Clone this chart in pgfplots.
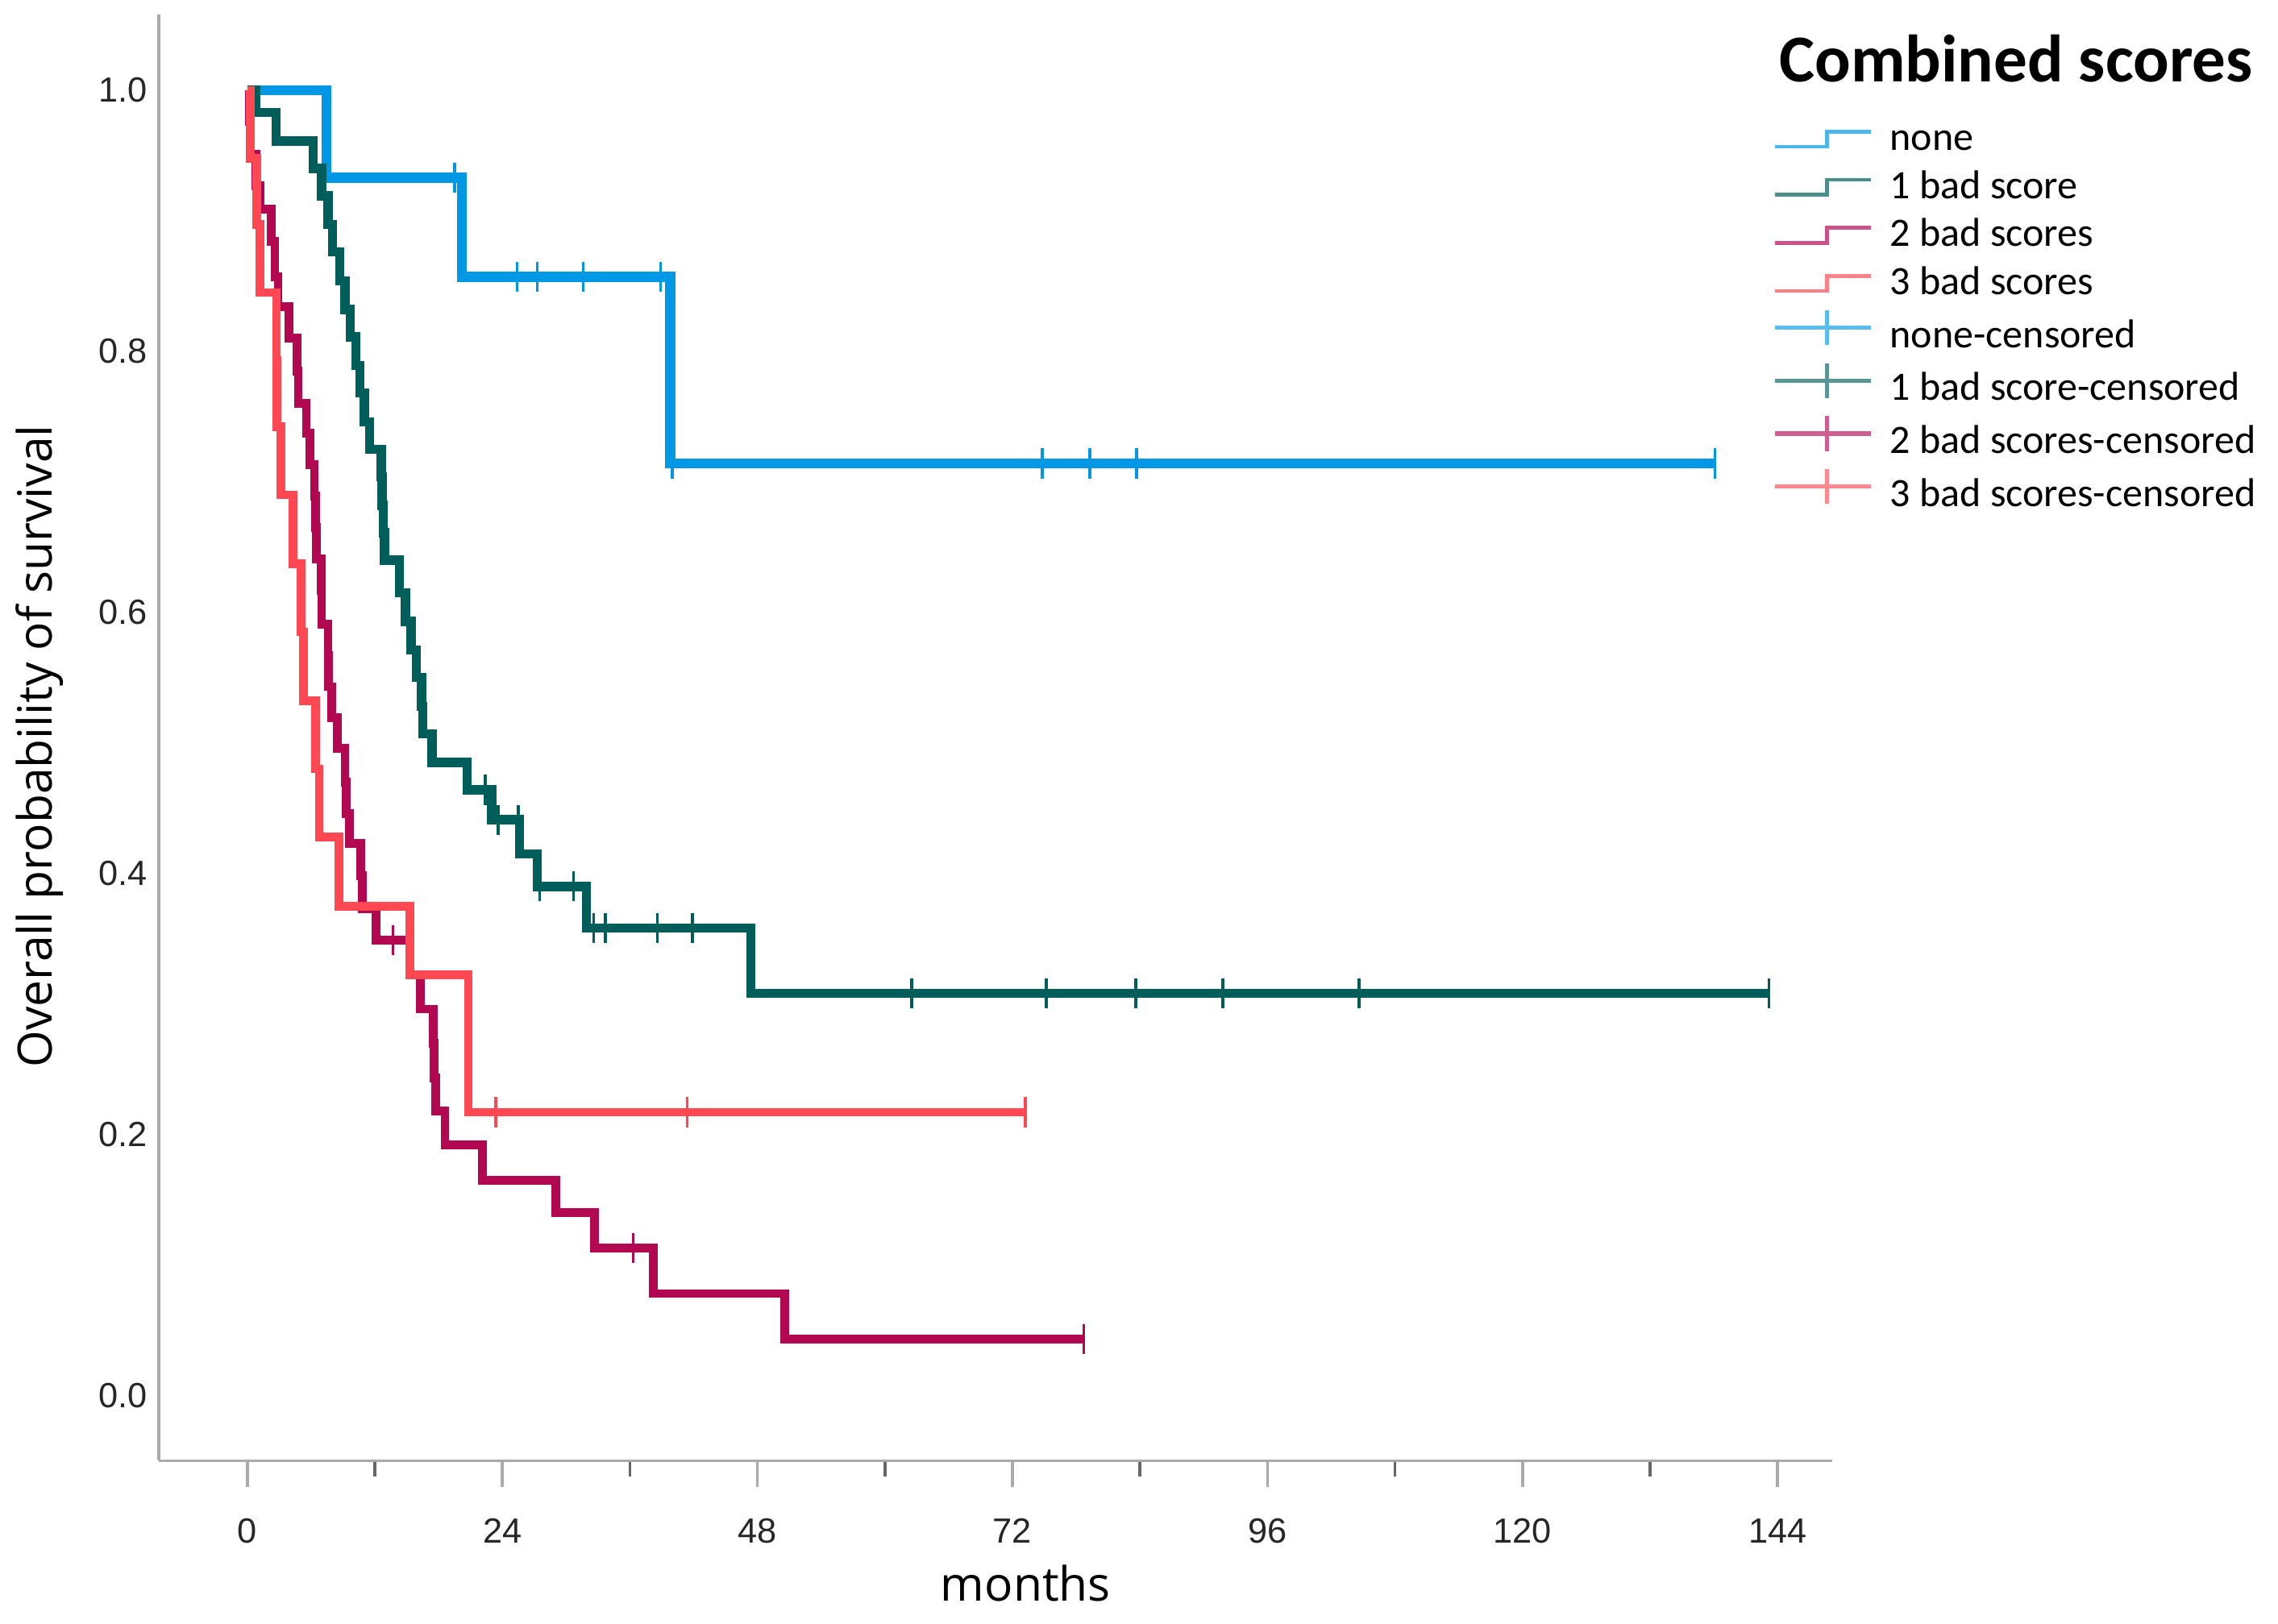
\documentclass[border=0pt]{standalone}
\usepackage{fontspec}
\setmainfont{Liberation Sans}
\newfontfamily\carlito{Carlito}
\newfontfamily\opensans{Open Sans}
\usepackage{pgfplots}
\pgfplotsset{compat=1.18}

\definecolor{cNone}{RGB}{0,152,228}
\definecolor{cOne}{RGB}{0,94,90}
\definecolor{cTwo}{RGB}{178,8,82}
\definecolor{cThree}{RGB}{255,72,82}
\definecolor{axgray}{RGB}{170,170,170}

% legend symbols: step for the curves, cross for the censored marks
\pgfplotsset{
  kmstep/.style={legend image code/.code={
    \draw[#1,line width=0.8pt,opacity=0.7] (0pt,-1.4pt) -- (10.8pt,-1.4pt) -- (10.8pt,1.7pt) -- (19.8pt,1.7pt);}},
  kmcens/.style={legend image code/.code={
    \draw[#1,line width=0.9pt,opacity=0.65] (0pt,1.9pt) -- (19.8pt,1.9pt) (10.8pt,-1.7pt) -- (10.8pt,5.5pt);}},
  censmark/.style={only marks, mark=|, mark size=3.1pt, mark options={line width=0.6pt, solid}},
}

\begin{document}
\begin{tikzpicture}
\useasboundingbox (-32.7pt,-33.6pt) rectangle (436.5pt,300.9pt);
\begin{axis}[
  at={(0pt,0pt)}, anchor=south west,
  scale only axis, width=344.7pt, height=297.9pt,
  xmin=-8.33, xmax=149.15, ymin=-0.05, ymax=1.058,
  axis lines=left,
  axis line style={-, draw=axgray, line width=0.6pt},
  xtick={0,24,...,144},
  minor xtick={12,36,60,84,108,132},
  ytick={0,0.2,0.4,0.6,0.8,1.0},
  tick align=outside,
  major tick length=5.4pt, minor tick length=3.3pt,
  every tick/.style={draw=axgray, line width=0.6pt},
  minor x tick style={draw=black!60},
  ytick style={draw=none},
  tick label style={font=\fontsize{7.2}{8}\selectfont, text=black!85},
  xticklabel style={yshift=-3pt},
  yticklabel style={xshift=6.6pt, /pgf/number format/.cd, fixed, fixed zerofill, precision=1},
  /pgf/number format/assume math mode=true,
  xlabel={months},
  ylabel={Overall probability of survival},
  every axis x label/.style={at={(axis description cs:0.518,0)}, anchor=base, yshift=-29pt,
    font=\opensans\fontsize{9.75}{11}\selectfont},
  every axis y label/.style={at={(axis description cs:-0.064,0.494)}, anchor=base, rotate=90,
    font=\opensans\fontsize{9.75}{11}\selectfont},
  legend cell align=left,
  legend style={at={(axis description cs:0.9643,0.9299)}, anchor=north west,
    draw=none, fill=none, inner sep=0pt, outer sep=0pt, row sep=0pt, column sep=3.5pt,
    font=\carlito\fontsize{8.3}{10}\selectfont,
    nodes={inner xsep=0pt, inner ysep=0.6pt, text height=6.5pt, text depth=2.2pt}},
]
% none
\addplot[const plot, cNone, line width=2.1pt, kmstep=cNone] coordinates {
  (0,1.000) (7.45,0.933) (20.2,0.857) (39.8,0.714) (138.1,0.714)};
\addlegendentry{none}
% 1 bad score
\addplot[const plot, cOne, line width=1.9pt, kmstep=cOne] coordinates {
  (0,1.000) (0.8,0.983) (2.7,0.961) (6.2,0.940) (7.0,0.919) (7.6,0.897)
  (8.0,0.876) (8.7,0.854) (9.2,0.832) (9.7,0.811) (10.2,0.789) (10.6,0.768)
  (11.0,0.746) (11.5,0.725) (12.6,0.704) (12.7,0.682) (12.8,0.661) (12.9,0.640)
  (14.3,0.615) (14.9,0.593) (15.4,0.571) (15.9,0.550) (16.4,0.528) (16.5,0.507)
  (17.4,0.485) (20.7,0.464) (23.0,0.441) (25.6,0.415) (27.3,0.390) (31.9,0.358)
  (47.4,0.308) (143.2,0.308)};
\addlegendentry{1 bad score}
% 2 bad scores
\addplot[const plot, cTwo, line width=1.8pt, kmstep=cTwo] coordinates {
  (0,1.000) (0.2,0.976) (0.3,0.951) (0.8,0.927) (1.2,0.909) (2.27,0.884)
  (2.6,0.857) (2.9,0.834) (3.9,0.810) (4.66,0.785) (4.8,0.760) (5.55,0.737)
  (5.9,0.713) (6.31,0.689) (6.4,0.665) (6.5,0.641) (6.95,0.617) (7.0,0.591)
  (7.6,0.567) (7.65,0.543) (7.95,0.519) (8.46,0.496) (9.2,0.470) (9.3,0.446)
  (9.6,0.423) (10.7,0.398) (10.8,0.373) (12.1,0.349) (15.3,0.322) (16.3,0.296)
  (17.5,0.270) (17.6,0.243) (17.7,0.218) (18.6,0.192) (22.1,0.165) (29.0,0.140)
  (32.7,0.113) (38.2,0.078) (50.6,0.043) (78.7,0.043)};
\addlegendentry{2 bad scores}
% 3 bad scores
\addplot[const plot, cThree, line width=1.8pt, kmstep=cThree] coordinates {
  (0,1.000) (0.3,0.948) (0.9,0.897) (1.2,0.845) (2.75,0.793) (2.8,0.742)
  (3.15,0.690) (4.3,0.637) (5.05,0.585) (5.3,0.532) (6.44,0.480) (6.77,0.428)
  (8.65,0.375) (15.3,0.322) (20.8,0.217) (73.2,0.217)};
\addlegendentry{3 bad scores}
% censored cases
\addplot[censmark, cNone, kmcens=cNone] coordinates {
  (19.5,0.933) (25.4,0.857) (27.3,0.857) (31.6,0.857) (38.9,0.857) (40.0,0.714)
  (74.8,0.714) (79.3,0.714) (83.7,0.714) (138.1,0.714)};
\addlegendentry{none-censored}
\addplot[censmark, cOne, kmcens=cOne] coordinates {
  (22.4,0.464) (23.6,0.441) (25.5,0.441) (27.5,0.390) (30.7,0.390) (32.6,0.358)
  (33.7,0.358) (38.6,0.358) (41.9,0.358) (62.5,0.308) (75.2,0.308) (83.6,0.308)
  (91.8,0.308) (104.6,0.308) (143.2,0.308)};
\addlegendentry{1 bad score-censored}
\addplot[censmark, cTwo, kmcens=cTwo] coordinates {
  (13.7,0.349) (36.3,0.113) (78.7,0.043)};
\addlegendentry{2 bad scores-censored}
\addplot[censmark, cThree, kmcens=cThree] coordinates {
  (23.4,0.217) (41.4,0.217) (73.2,0.217)};
\addlegendentry{3 bad scores-censored}
\end{axis}
\node[anchor=base west, font=\carlito\bfseries\fontsize{13.8}{15}\selectfont] at (330.3pt,284.0pt) {Combined scores};
\end{tikzpicture}
\end{document}
